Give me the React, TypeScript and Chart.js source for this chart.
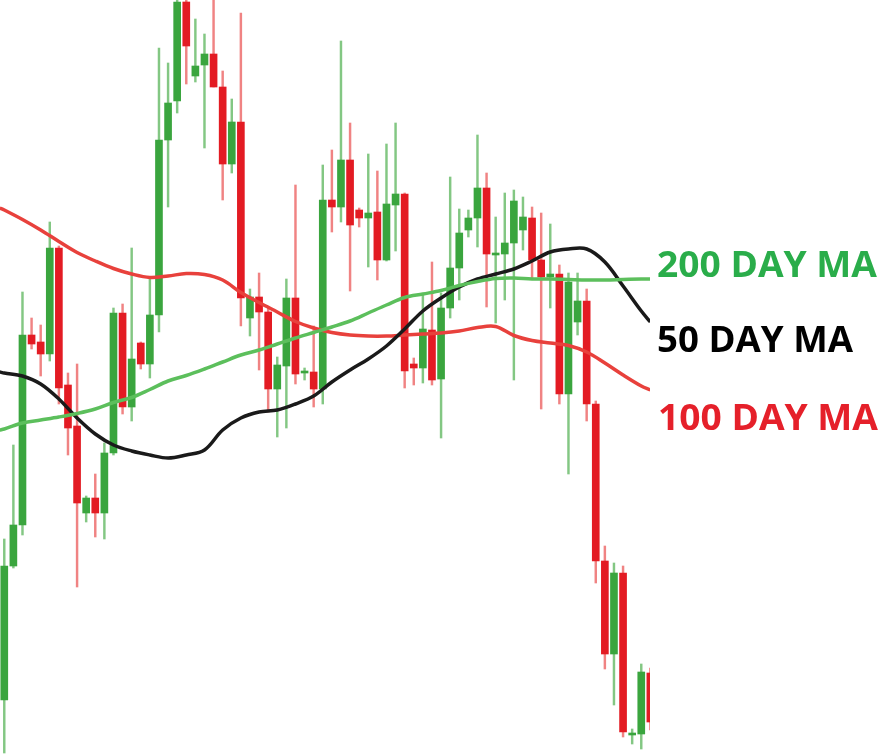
import React, { useEffect, useRef } from "react";
import { Chart, registerables } from "chart.js";

Chart.register(...registerables);

// Candle values (arbitrary price units)
const opens = [
  55, 189, 230, 420, 413, 401, 507, 370, 329, 242, 257, 242, 302, 442, 348, 412, 391, 440, 615, 654,
  753, 679, 690, 701, 668, 591, 633, 437, 458, 443, 366, 389, 457, 382, 383, 366, 555, 548, 595, 545,
  537, 543, 495, 550, 561, 391, 387, 425, 376, 447, 487, 525, 537, 567, 500, 501, 512, 525, 537, 495,
  478, 481, 361, 433, 454, 351, 194, 101, 182, 20, 21, 82,
];
const highs = [
  216, 310, 463, 437, 430, 533, 509, 382, 391, 259, 281, 312, 447, 451, 507, 413, 476, 707, 692, 760,
  760, 736, 721, 760, 684, 656, 742, 466, 482, 447, 398, 476, 570, 387, 429, 590, 605, 714, 632, 547,
  601, 584, 611, 632, 562, 397, 461, 493, 462, 578, 546, 545, 620, 582, 538, 562, 565, 558, 548, 542,
  531, 490, 482, 482, 466, 354, 209, 192, 189, 26, 91, 87,
];
const lows = [
  2, 187, 220, 406, 379, 394, 351, 300, 168, 233, 218, 216, 300, 341, 334, 386, 377, 423, 548, 642,
  671, 673, 607, 668, 555, 582, 429, 419, 385, 343, 318, 327, 371, 375, 348, 351, 523, 533, 464, 528,
  488, 475, 494, 504, 367, 370, 372, 370, 317, 437, 455, 518, 508, 448, 432, 455, 375, 505, 477, 346,
  447, 351, 281, 420, 334, 172, 86, 50, 18, 11, 6, 25,
];
const closes = [
  189, 230, 420, 411, 401, 507, 367, 327, 252, 257, 242, 302, 442, 348, 396, 391, 440, 615, 652, 753,
  709, 689, 701, 668, 591, 633, 457, 458, 443, 366, 390, 457, 381, 384, 366, 555, 548, 595, 530, 537,
  542, 495, 551, 561, 384, 387, 426, 375, 447, 487, 522, 537, 567, 501, 502, 512, 554, 538, 495, 478,
  481, 361, 473, 454, 351, 194, 101, 182, 23, 22, 83, 33,
];

// Moving averages, read at these candle positions
const maIndex = [
  -0.5, 0, 2, 4, 6, 8, 10, 12, 14, 16, 18, 20, 22, 24, 26, 28, 30, 32, 34, 36, 38, 40, 42, 44, 46,
  48, 50, 52, 54, 56, 58, 60, 62, 64, 66, 68, 70, 71,
];
const ma200 = [
  325, 326, 332, 335, 338, 341.5, 346, 352.5, 357.5, 365.5, 374, 379.5, 386, 393, 400, 405, 411, 417,
  422.5, 428, 434, 442, 450, 457.5, 461, 464.5, 469.5, 473.5, 476.5, 477, 476, 476, 475.5, 475, 475,
  475.5, 476, 476,
];
const ma50 = [
  383, 382, 379, 371, 356, 337, 321, 310, 304, 300, 297, 300, 305, 325, 337, 343, 345, 351, 359, 373,
  385, 396, 409, 426, 444, 457, 468, 476, 481, 486, 494, 503, 506, 506, 493, 469, 444, 433,
];
const ma100 = [
  547, 545, 535.5, 525, 513.5, 502.5, 494, 486.5, 481, 477.5, 479, 481.5, 480.5, 475, 462.5, 452.5,
  443, 433.5, 427, 422.5, 420, 419, 419, 420, 421, 422, 424, 427.5, 428.5, 419.5, 414.5, 412, 409.5,
  403, 392, 380, 369, 365,
];

const labels = [
  { text: "200 DAY MA", color: "#2aad4a" },
  { text: "50 DAY MA", color: "#000000" },
  { text: "100 DAY MA", color: "#e5202a" },
];

const UP = "#3aa53e";
const DOWN = "#e31b23";
const UP_WICK = "rgba(90,180,90,0.75)";
const DOWN_WICK = "rgba(235,90,90,0.75)";

export default function App() {
  const ref = useRef<HTMLCanvasElement | null>(null);

  useEffect(() => {
    const canvas = ref.current;
    if (!canvas) return;
    const idx = opens.map((_, i) => i);
    const isUp = idx.map((i) => closes[i] >= opens[i]);

    const labelPlugin = {
      id: "maLabels",
      afterDraw(chart: any) {
        const ctx = chart.ctx;
        ctx.save();
        ctx.font = "bold 36px 'Open Sans'";
        ctx.textBaseline = "alphabetic";
        ctx.textAlign = "left";
        const pos = [
          { x: 657, y: 277, w: 220 },
          { x: 657, y: 352, w: 196 },
          { x: 658, y: 430, w: 220 },
        ];
        labels.forEach((l, k) => {
          const p = pos[k];
          const m = ctx.measureText(l.text).width;
          ctx.save();
          ctx.translate(p.x, p.y);
          ctx.scale(p.w / m, 1);
          ctx.fillStyle = l.color;
          ctx.fillText(l.text, 0, 0);
          ctx.restore();
        });
        ctx.restore();
      },
    };

    const line = (vals: number[], color: string) => ({
      type: "line" as const,
      data: maIndex.map((x, i) => ({ x, y: vals[i] })),
      borderColor: color,
      borderWidth: 3.5,
      pointRadius: 0,
      tension: 0.35,
      fill: false,
      order: 1,
    });

    const chart = new Chart(canvas, {
      type: "bar",
      data: {
        datasets: [
          {
            type: "bar",
            data: idx.map((i) => ({ x: i, y: [lows[i], highs[i]] })),
            backgroundColor: idx.map((i) => (isUp[i] ? UP_WICK : DOWN_WICK)),
            barThickness: 1.8,
            grouped: false,
            borderWidth: 0,
            order: 3,
          } as any,
          {
            type: "bar",
            data: idx.map((i) => ({ x: i, y: [opens[i], closes[i]] })),
            backgroundColor: idx.map((i) => (isUp[i] ? UP : DOWN)),
            barThickness: 7,
            grouped: false,
            borderWidth: 0,
            minBarLength: 2,
            order: 2,
          } as any,
          line(ma200, "#5cbf5c"),
          line(ma50, "#1a1a1a"),
          line(ma100, "#e8413c"),
        ],
      },
      options: {
        animation: false,
        responsive: false,
        maintainAspectRatio: false,
        devicePixelRatio: 1,
        layout: { padding: { left: 0, right: 243, top: 0, bottom: 0 } },
        plugins: { legend: { display: false }, tooltip: { enabled: false } },
        scales: {
          x: { type: "linear", display: false, offset: false, min: -0.47, max: 70.96 },
          y: { type: "linear", display: false, min: 0, max: 755 },
        },
      },
      plugins: [labelPlugin],
    });
    return () => chart.destroy();
  }, []);

  return (
    <div style={{ position: "absolute", left: 0, top: 0, width: 893, height: 755, background: "#fff" }}>
      <canvas ref={ref} width={893} height={755} style={{ display: "block" }} />
    </div>
  );
}
